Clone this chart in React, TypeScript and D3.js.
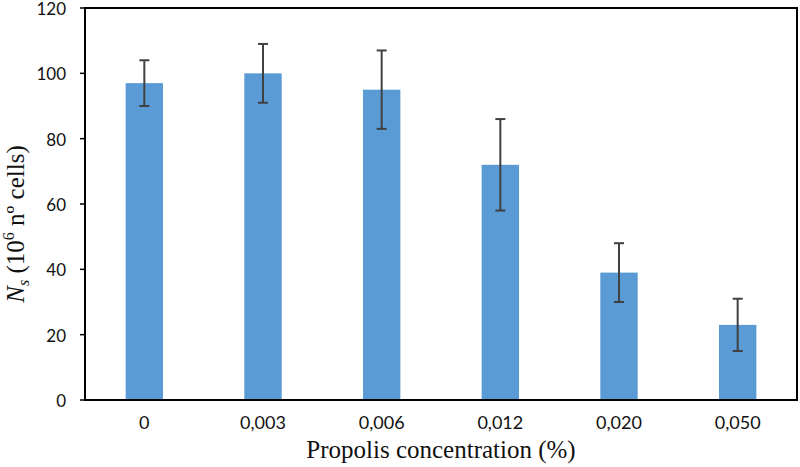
import React from "react";
import * as d3 from "d3";

const categories = ["0", "0,003", "0,006", "0,012", "0,020", "0,050"];
const values = [97, 100, 95, 72, 39, 23];
const errors = [7, 9, 12, 14, 9, 8];
const yTicks = [0, 20, 40, 60, 80, 100, 120];

const W = 800;
const H = 467;
const M = { left: 85, right: 3, top: 8, bottom: 67 };

export default function App() {
  const x = d3
    .scaleBand<string>()
    .domain(categories)
    .range([M.left, W - M.right])
    .padding(0);
  const y = d3.scaleLinear().domain([0, 120]).range([H - M.bottom, M.top]);
  const barW = x.bandwidth() * 0.315;
  const capW = 10;
  const tickFont = "Lato, 'Open Sans', sans-serif";
  const serif = "'Liberation Serif', 'DejaVu Serif', 'Times New Roman', serif";

  return (
    <svg
      width={W}
      height={H}
      style={{ position: "absolute", left: 0, top: 0, background: "#fff" }}
    >
      {values.map((v, i) => {
        const cx = (x(categories[i]) as number) + x.bandwidth() / 2;
        return (
          <g key={i}>
            <rect
              x={cx - barW / 2}
              y={y(v)}
              width={barW}
              height={y(0) - y(v)}
              fill="#5B9BD5"
            />
            <line
              x1={cx}
              x2={cx}
              y1={y(v + errors[i])}
              y2={y(v - errors[i])}
              stroke="#404040"
              strokeWidth={2}
            />
            <line
              x1={cx - capW / 2}
              x2={cx + capW / 2}
              y1={y(v + errors[i])}
              y2={y(v + errors[i])}
              stroke="#404040"
              strokeWidth={2}
            />
            <line
              x1={cx - capW / 2}
              x2={cx + capW / 2}
              y1={y(v - errors[i])}
              y2={y(v - errors[i])}
              stroke="#404040"
              strokeWidth={2}
            />
            <text
              x={cx}
              y={429}
              textAnchor="middle"
              style={{ fontFamily: tickFont, fontSize: 18 }}
              fill="#111"
            >
              {categories[i]}
            </text>
          </g>
        );
      })}
      <rect
        x={M.left}
        y={M.top}
        width={W - M.right - M.left}
        height={y(0) - M.top}
        fill="none"
        stroke="#000"
        strokeWidth={2}
      />
      {yTicks.map((t) => (
        <g key={t}>
          <line x1={M.left - 5} x2={M.left} y1={y(t)} y2={y(t)} stroke="#000" strokeWidth={1.5} />
          <text
            x={66}
            y={y(t) + 7}
            textAnchor="end"
            style={{ fontFamily: tickFont, fontSize: 17 }}
            fill="#111"
          >
            {t}
          </text>
        </g>
      ))}
      <text
        x={(M.left + W - M.right) / 2}
        y={458}
        textAnchor="middle"
        style={{ fontFamily: serif, fontSize: 25 }}
        fill="#111"
      >
        Propolis concentration (%)
      </text>
      <text
        transform={`translate(24, ${(M.top + y(0)) / 2 + 20}) rotate(-90)`}
        textAnchor="middle"
        style={{ fontFamily: serif, fontSize: 25 }}
        fill="#111"
      >
        <tspan fontStyle="italic">N</tspan>
        <tspan fontStyle="italic" fontSize={16} dy={5}>s</tspan>
        <tspan dy={-5}> (10</tspan>
        <tspan fontSize={16} dy={-10}>6</tspan>
        <tspan dy={10}> nº cells)</tspan>
      </text>
    </svg>
  );
}
